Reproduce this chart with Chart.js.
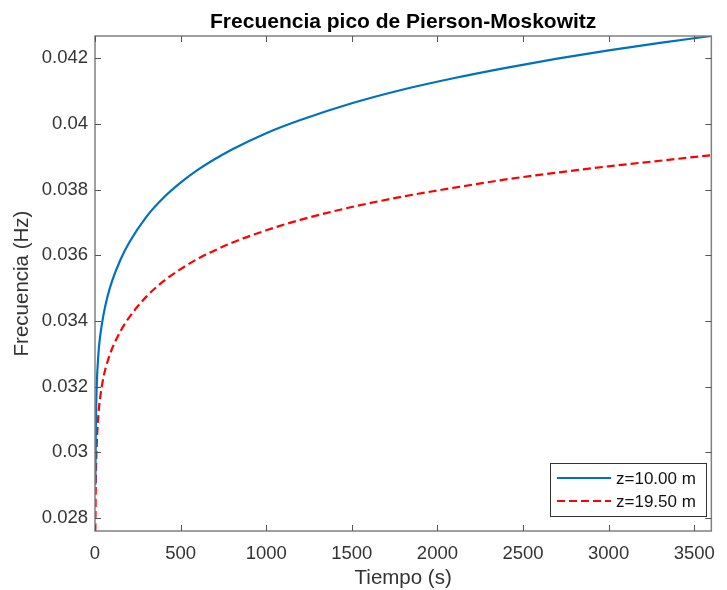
<!DOCTYPE html>
<html>
<head>
<meta charset="utf-8">
<script src="https://cdn.jsdelivr.net/npm/chart.js@4.4.0/dist/chart.umd.min.js"></script>
<style>
body { margin: 0; background: #fff; }
#wrap { width: 727px; height: 590px; }
</style>
</head>
<body>
<div id="wrap"><canvas id="chart" width="727" height="590"></canvas></div>
<script>
// values
const timeSec = [2, 5, 10, 20, 30, 50, 75, 100, 150, 200, 300, 400, 500, 600, 800, 1000,
                 1200, 1500, 1800, 2100, 2400, 2700, 3000, 3300, 3600];
const freqZ10 = [0.02900, 0.03080, 0.03200, 0.03300, 0.03353, 0.03420, 0.03478, 0.03522, 0.03588,
                 0.03639, 0.03717, 0.03775, 0.03821, 0.03860, 0.03922, 0.03972, 0.04012, 0.04063,
                 0.04105, 0.04140, 0.04171, 0.04199, 0.04224, 0.04247, 0.04268];
const freqZ195 = [0.02760, 0.02920, 0.03020, 0.03115, 0.03165, 0.03230, 0.03279, 0.03316, 0.03370,
                  0.03411, 0.03474, 0.03521, 0.03558, 0.03589, 0.03638, 0.03676, 0.03708, 0.03747,
                  0.03779, 0.03806, 0.03831, 0.03852, 0.03871, 0.03888, 0.03905];
const seriesLabels = ["z=10.00 m", "z=19.50 m"];
const xTicks = [0, 500, 1000, 1500, 2000, 2500, 3000, 3500];
const yTicks = [0.028, 0.030, 0.032, 0.034, 0.036, 0.038, 0.040, 0.042];

const FONT = "'Liberation Sans', Arial, Helvetica, sans-serif";
const BLUE = "#0072BD";
const RED = "#FF0000";

function toPoints(xs, ys) {
    return xs.map((x, i) => ({ x: x, y: ys[i] }));
}

// MATLAB style box, inward ticks, title, axis labels and legend
const matlabFrame = {
    id: "matlabFrame",
    afterDraw(chart) {
        const ctx = chart.ctx;
        const a = chart.chartArea;
        const xs = chart.scales.x, ys = chart.scales.y;
        ctx.save();
        ctx.strokeStyle = "#808080";
        ctx.lineWidth = 1.5;
        ctx.strokeRect(a.left, a.top, a.right - a.left, a.bottom - a.top);
        ctx.strokeStyle = "#555";
        ctx.lineWidth = 1;
        ctx.beginPath();
        xTicks.forEach(v => {
            const px = Math.round(xs.getPixelForValue(v)) + 0.5;
            ctx.moveTo(px, a.bottom); ctx.lineTo(px, a.bottom - 6);
            ctx.moveTo(px, a.top); ctx.lineTo(px, a.top + 6);
        });
        yTicks.forEach(v => {
            const py = Math.round(ys.getPixelForValue(v)) + 0.5;
            ctx.moveTo(a.left, py); ctx.lineTo(a.left + 6, py);
            ctx.moveTo(a.right, py); ctx.lineTo(a.right - 6, py);
        });
        ctx.stroke();

        // title
        const cx = (a.left + a.right) / 2;
        ctx.fillStyle = "#000";
        ctx.font = "bold 21px " + FONT;
        ctx.textAlign = "center";
        ctx.textBaseline = "middle";
        ctx.fillText("Frecuencia pico de Pierson-Moskowitz", cx, 22);

        // axis labels
        ctx.fillStyle = "#333";
        ctx.font = "20.5px " + FONT;
        ctx.fillText("Tiempo (s)", cx, 578);
        ctx.save();
        ctx.translate(22, (a.top + a.bottom) / 2);
        ctx.rotate(-Math.PI / 2);
        ctx.fillText("Frecuencia (Hz)", 0, 0);
        ctx.restore();

        // legend
        const lx = 550, ly = 463, lw = 156, lh = 53;
        ctx.fillStyle = "#fff";
        ctx.fillRect(lx, ly, lw, lh);
        ctx.strokeStyle = "#333";
        ctx.lineWidth = 1;
        ctx.strokeRect(lx + 0.5, ly + 0.5, lw, lh);
        chart.data.datasets.forEach((ds, i) => {
            const y = ly + 15 + i * 23;
            ctx.strokeStyle = ds.borderColor;
            ctx.lineWidth = ds.borderWidth;
            ctx.setLineDash(ds.borderDash || []);
            ctx.beginPath();
            ctx.moveTo(lx + 7, y);
            ctx.lineTo(lx + 61, y);
            ctx.stroke();
            ctx.setLineDash([]);
            ctx.fillStyle = "#111";
            ctx.font = "17px " + FONT;
            ctx.textAlign = "left";
            ctx.fillText(ds.label, lx + 66, y + 1);
        });
        ctx.restore();
    }
};

new Chart(document.getElementById("chart"), {
    type: "line",
    data: {
        datasets: [{
            label: seriesLabels[0],
            data: toPoints(timeSec, freqZ10),
            borderColor: BLUE,
            borderWidth: 2.2,
            pointRadius: 0,
            cubicInterpolationMode: "monotone",
            fill: false
        }, {
            label: seriesLabels[1],
            data: toPoints(timeSec, freqZ195),
            borderColor: RED,
            borderWidth: 2.2,
            borderDash: [8, 4],
            pointRadius: 0,
            cubicInterpolationMode: "monotone",
            fill: false
        }]
    },
    options: {
        responsive: false,
        animation: false,
        layout: { padding: { top: 36, right: 7, left: 0, bottom: 0 } },
        plugins: {
            legend: { display: false },
            title: { display: false },
            tooltip: { enabled: false }
        },
        scales: {
            x: {
                type: "linear",
                min: 0,
                max: 3600,
                grid: { display: false, drawTicks: false },
                border: { display: false },
                afterBuildTicks: s => { s.ticks = xTicks.map(v => ({ value: v })); },
                afterFit: s => { s.height = 59; },
                ticks: {
                    maxRotation: 0,
                    padding: 12,
                    color: "#333",
                    font: { family: FONT, size: 18.5 },
                    callback: v => String(v)
                }
            },
            y: {
                type: "linear",
                min: 0.0276,
                max: 0.04268,
                grid: { display: false, drawTicks: false },
                border: { display: false },
                afterBuildTicks: s => { s.ticks = yTicks.map(v => ({ value: v })); },
                afterFit: s => { s.width = 95; },
                ticks: {
                    padding: 7,
                    color: "#333",
                    font: { family: FONT, size: 18.5 },
                    callback: v => String(+v.toFixed(4))
                }
            }
        }
    },
    plugins: [matlabFrame]
});
</script>
</body>
</html>
